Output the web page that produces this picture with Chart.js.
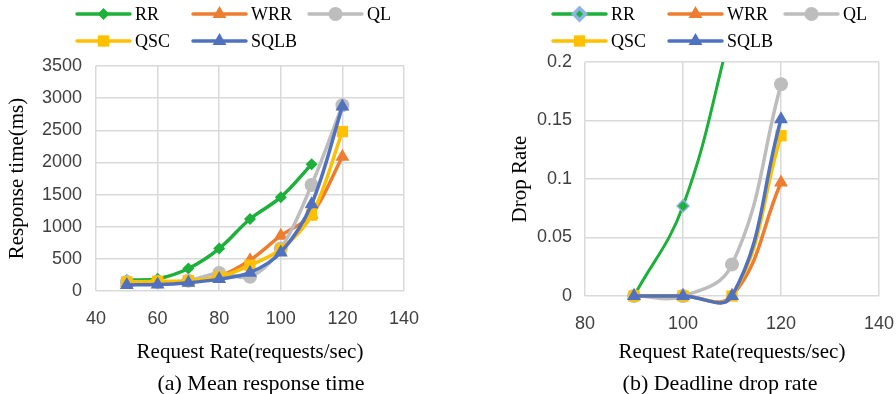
<!DOCTYPE html>
<html lang="en">
  <head>
    <meta charset="UTF-8" />
    <script src="https://cdnjs.cloudflare.com/ajax/libs/Chart.js/4.4.1/chart.umd.min.js"></script>
    <style>
      body {
        margin: 0;
        background: #fff;
      }
      #wrap {
        position: relative;
        width: 896px;
        height: 394px;
      }
      canvas {
        position: absolute;
        top: 0;
      }
      #chartA {
        left: 0;
      }
      #chartB {
        left: 448px;
      }
      .caption {
        position: absolute;
        top: 370px;
        font: 22px "Liberation Serif", "Times New Roman", serif;
        color: #000;
        transform: translateX(-50%);
        white-space: nowrap;
      }
    </style>
    <title>Response time and drop rate</title>
  </head>
  <body>
    <div id="wrap">
      <canvas id="chartA" width="448" height="394"></canvas>
      <canvas id="chartB" width="448" height="394"></canvas>
      <div class="caption" style="left: 261px">(a) Mean response time</div>
      <div class="caption" style="left: 720px">(b) Deadline drop rate</div>
    </div>
    <script>
      const series = ["RR", "WRR", "QL", "QSC", "SQLB"];

      // mean response time (ms) per request rate
      const rateA = [50, 60, 70, 80, 90, 100, 110, 120];
      const respRR = [170, 190, 350, 660, 1120, 1460, 1970, null];
      const respWRR = [130, 140, 150, 230, 480, 860, 1190, 2090];
      const respQL = [140, 140, 160, 280, 220, 660, 1650, 2890];
      const respQSC = [140, 150, 160, 220, 400, 650, 1180, 2480];
      const respSQLB = [95, 100, 130, 185, 285, 600, 1350, 2870];

      // deadline drop rate per request rate
      const rateB = [90, 100, 110, 120];
      const dropRR = [0, 0.077, 0.23, null];
      const dropWRR = [0, 0, 0, 0.097];
      const dropQL = [0, 0, 0.027, 0.181];
      const dropQSC = [0, 0, 0, 0.137];
      const dropSQLB = [0, 0, 0, 0.151];

      const colors = ["#1db03a", "#ed7d31", "#bdbdbd", "#ffc000", "#4f71bf"];
      const markers = ["rectRot", "triangle", "circle", "rect", "triangle"];
      const radii = [6, 8, 7, 8, 8];

      const serif = "'Liberation Serif', 'Times New Roman', serif";
      const sans = "'Liberation Sans', Arial, sans-serif";

      // Excel-style legend: 3 columns, line with marker in the middle
      const gridLegend = {
        id: "gridLegend",
        afterDraw(chart, args, opts) {
          const ctx = chart.ctx;
          chart.data.datasets.forEach((ds, i) => {
            const x = opts.x0 + (i % 3) * opts.dx;
            const y = opts.y0 + Math.floor(i / 3) * opts.dy;
            ctx.save();
            ctx.strokeStyle = ds.borderColor;
            ctx.lineWidth = 3.5;
            ctx.lineCap = "round";
            ctx.beginPath();
            ctx.moveTo(x, y);
            ctx.lineTo(x + 53, y);
            ctx.stroke();
            ctx.fillStyle = ds.pointBackgroundColor;
            ctx.strokeStyle = ds.pointBorderColor;
            Chart.helpers.drawPoint(
              ctx,
              {
                pointStyle: ds.pointStyle,
                radius: ds.pointRadius,
                rotation: 0,
                borderWidth: ds.pointBorderWidth,
              },
              x + 26.5,
              y
            );
            ctx.fillStyle = "#000";
            ctx.font = "18px " + serif;
            ctx.textBaseline = "middle";
            ctx.fillText(ds.label, x + 58, y + 1);
            ctx.restore();
          });
        },
      };

      function makeSets(xs, lists, tension, extra) {
        return lists.map((vals, i) => {
          const ds = {
            label: series[i],
            data: xs.map((x, j) => ({ x: x, y: vals[j] })),
            borderColor: colors[i],
            backgroundColor: colors[i],
            borderWidth: 3.5,
            tension: tension,
            capBezierPoints: false,
            pointStyle: markers[i],
            pointRadius: radii[i],
            pointBackgroundColor: colors[i],
            pointBorderColor: colors[i],
            pointBorderWidth: 0,
            order: 5 - i,
            clip: false,
          };
          return Object.assign(ds, extra ? extra(i) : {});
        });
      }

      function axisX(min, max, bottomPad) {
        return {
          type: "linear",
          min: min,
          max: max,
          afterFit: (s) => {
            s.height = 80;
            // plot edges come from layout padding only
            s.paddingLeft = 0;
            s.paddingRight = 0;
          },
          ticks: {
            stepSize: 20,
            padding: 17,
            color: "#404040",
            font: { family: sans, size: 18 },
          },
          grid: { color: "#d9d9d9", lineWidth: 1.5, drawTicks: false },
          border: { display: false },
          title: {
            display: true,
            text: "Request Rate(requests/sec)",
            color: "#000",
            font: { family: serif, size: 21 },
            padding: { top: 0, bottom: bottomPad },
          },
        };
      }

      function axisY(max, step, width, tickPad, titleText, titlePad, fmt) {
        return {
          min: 0,
          max: max,
          afterFit: (s) => {
            s.width = width;
          },
          ticks: {
            stepSize: step,
            padding: tickPad,
            color: "#404040",
            font: { family: sans, size: 18 },
            callback: fmt,
          },
          grid: { color: "#d9d9d9", lineWidth: 1.5, drawTicks: false },
          border: { display: false },
          title: {
            display: true,
            text: titleText,
            color: "#000",
            font: { family: serif, size: 21 },
            padding: { top: titlePad, bottom: 0 },
          },
        };
      }

      const common = {
        responsive: false,
        animation: false,
        plugins: { legend: { display: false }, tooltip: { enabled: false } },
      };

      new Chart(document.getElementById("chartA"), {
        type: "line",
        data: {
          datasets: makeSets(rateA, [respRR, respWRR, respQL, respQSC, respSQLB], 0.35),
        },
        options: {
          ...common,
          layout: { padding: { left: 0, right: 44, top: 66, bottom: 23 } },
          plugins: {
            ...common.plugins,
            gridLegend: { x0: 77, dx: 116, y0: 14, dy: 27 },
          },
          scales: {
            x: axisX(40, 140, 6),
            y: axisY(3500, 500, 96, 14, "Response time(ms)", 5, (v) => String(v)),
          },
        },
        plugins: [gridLegend],
      });

      new Chart(document.getElementById("chartB"), {
        type: "line",
        data: {
          datasets: makeSets(
            rateB,
            [dropRR, dropWRR, dropQL, dropQSC, dropSQLB],
            0.42,
            (i) =>
              i === 0
                ? {
                    pointBorderColor: "#8eb4e3",
                    pointBorderWidth: 1.5,
                    borderWidth: 3,
                    clip: { left: 10, top: 0, right: 10, bottom: 10 },
                  }
                : {}
          ),
        },
        options: {
          ...common,
          layout: { padding: { left: 0, right: 17, top: 62, bottom: 18 } },
          plugins: {
            ...common.plugins,
            gridLegend: { x0: 105, dx: 116, y0: 14, dy: 27 },
          },
          scales: {
            x: axisX(80, 140, 11),
            y: axisY(0.2, 0.05, 137, 13, "Drop Rate", 60, (v) => String(+v.toFixed(2))),
          },
        },
        plugins: [gridLegend],
      });
    </script>
  </body>
</html>
